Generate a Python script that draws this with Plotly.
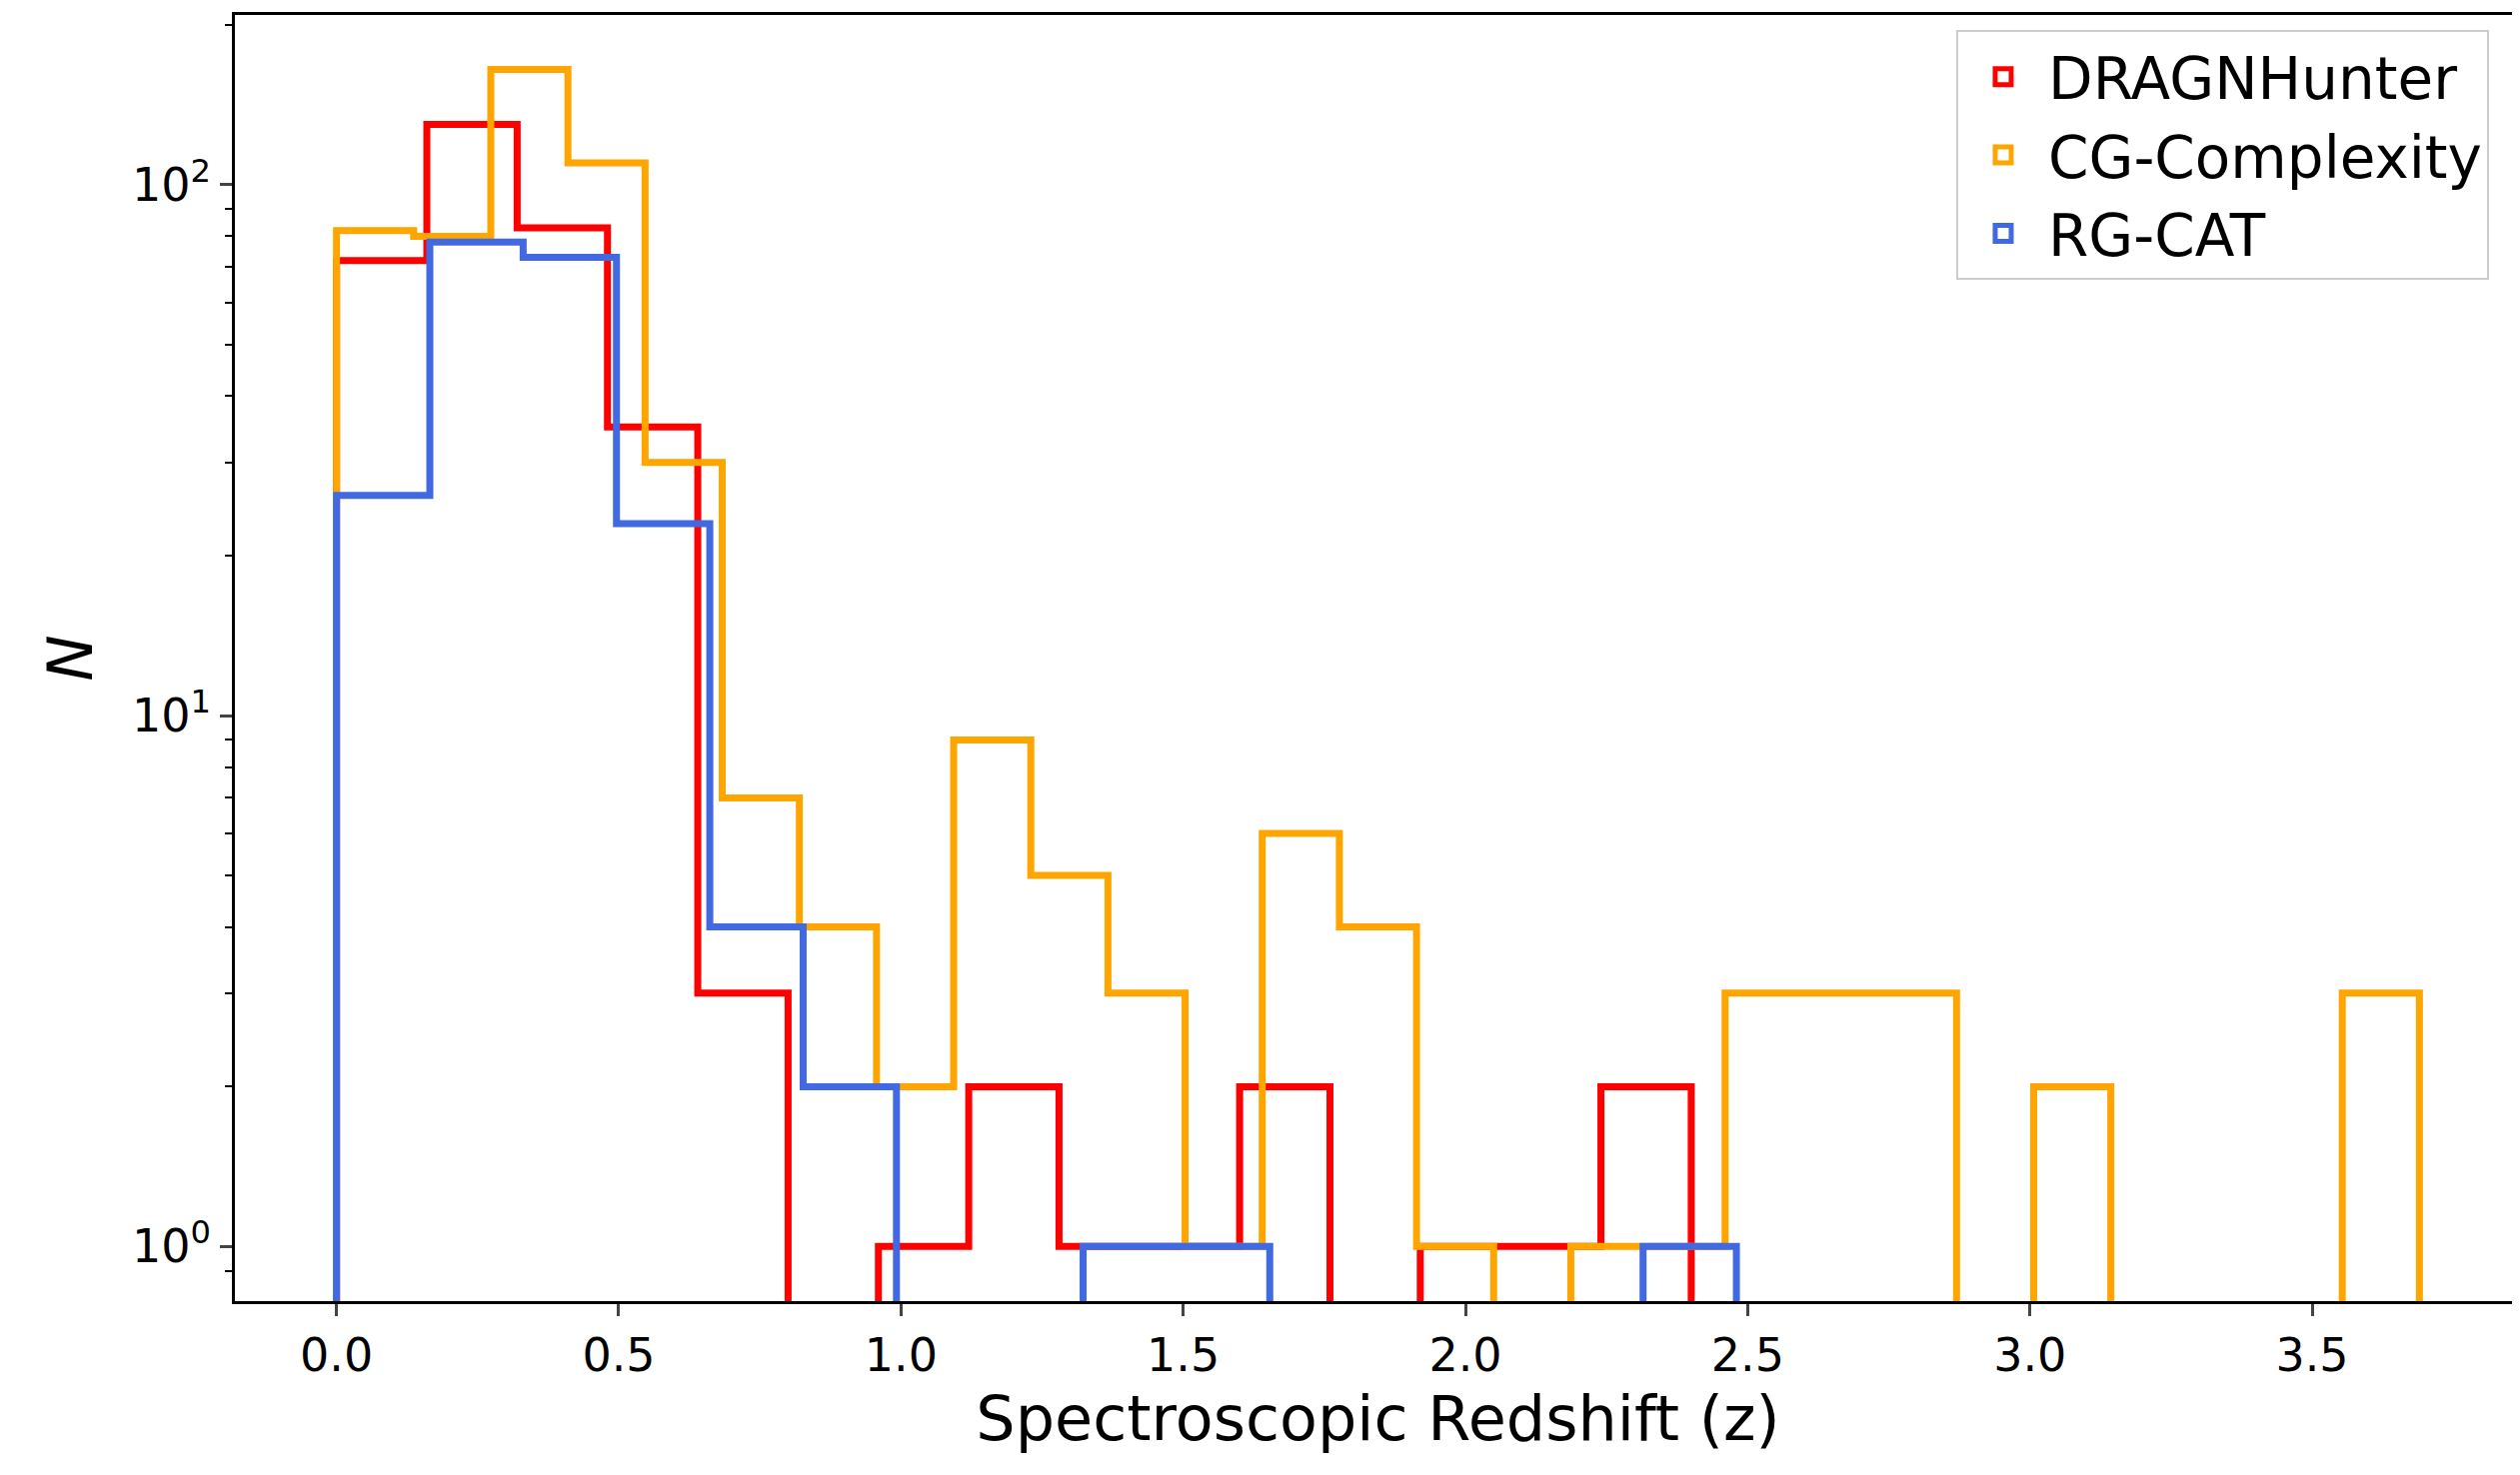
import numpy as np
import plotly.graph_objects as go

# histogram counts (equal-width bins between lo and hi)
dragn_counts = [72, 130, 83, 35, 3, 0, 1, 2, 1, 1, 2, 0, 1, 1, 2]
dragn_range = (0.0, 2.40)
cg_counts = [82, 80, 165, 110, 30, 7, 4, 2, 9, 5, 3, 1, 6, 4, 1, 0, 1, 1,
             3, 3, 3, 0, 2, 0, 0, 0, 3]
cg_range = (0.0, 3.69)
rg_counts = [26, 78, 73, 23, 4, 2, 0, 0, 1, 1, 0, 0, 0, 0, 1]
rg_range = (0.0, 2.48)

series = [
    ("DRAGNHunter", dragn_counts, dragn_range, "#ff0000"),
    ("CG-Complexity", cg_counts, cg_range, "#ffa500"),
    ("RG-CAT", rg_counts, rg_range, "#4169e1"),
]

FLOOR = 1e-3  # stands in for zero on the log axis
fig = go.Figure()
for name, counts, (lo, hi), color in series:
    edges = np.linspace(lo, hi, len(counts) + 1)
    c = [v if v > 0 else FLOOR for v in counts]
    xs = [edges[0]] + list(edges) + [edges[-1]]
    ys = [FLOOR] + c + [c[-1], FLOOR]
    fig.add_trace(go.Scatter(x=xs, y=ys, mode="lines", line_shape="hv",
                             line=dict(color=color, width=7), showlegend=False,
                             hoverinfo="skip"))

for name, counts, rng, color in series:
    fig.add_trace(go.Scatter(x=[None], y=[None], mode="markers", name=name,
                             marker=dict(symbol="square-open", size=40,
                                         color=color, line=dict(width=6, color=color))))

axis_common = dict(showline=True, linecolor="black", linewidth=2.5, mirror=True,
                   ticks="outside", ticklen=12, tickwidth=2.5, showgrid=False,
                   zeroline=False, tickfont=dict(size=46, color="black"))

fig.update_layout(
    width=2521, height=1476,
    margin=dict(l=227, r=4, t=5, b=182),
    plot_bgcolor="white", paper_bgcolor="white",
    font=dict(family="DejaVu Sans", color="black"),
    xaxis=dict(range=[-0.18, 3.87], tickvals=[0, 0.5, 1, 1.5, 2, 2.5, 3, 3.5],
               tickformat=".1f",
               title=dict(text="Spectroscopic Redshift (z)", font=dict(size=62), standoff=8),
               **axis_common),
    yaxis=dict(type="log", range=[-0.103, 2.32], tickvals=[1, 10, 100],
               ticktext=["10<sup>0</sup>", "10<sup>1</sup>", "10<sup>2</sup>"],
               minor=dict(ticks="outside", ticklen=7, tickwidth=2, tickcolor="black",
                          tickvals=[0.9, 2, 3, 4, 5, 6, 7, 8, 9, 20, 30, 40, 50, 60, 70, 80, 90, 200]),
               title=dict(text="<i>N</i>", font=dict(size=62), standoff=20),
               **axis_common),
    legend=dict(x=0.986, y=0.988, xanchor="right", yanchor="top",
                bgcolor="white", bordercolor="#cccccc", borderwidth=2,
                font=dict(size=58), itemwidth=80, tracegroupgap=20),
)

fig.write_html("out.html")
